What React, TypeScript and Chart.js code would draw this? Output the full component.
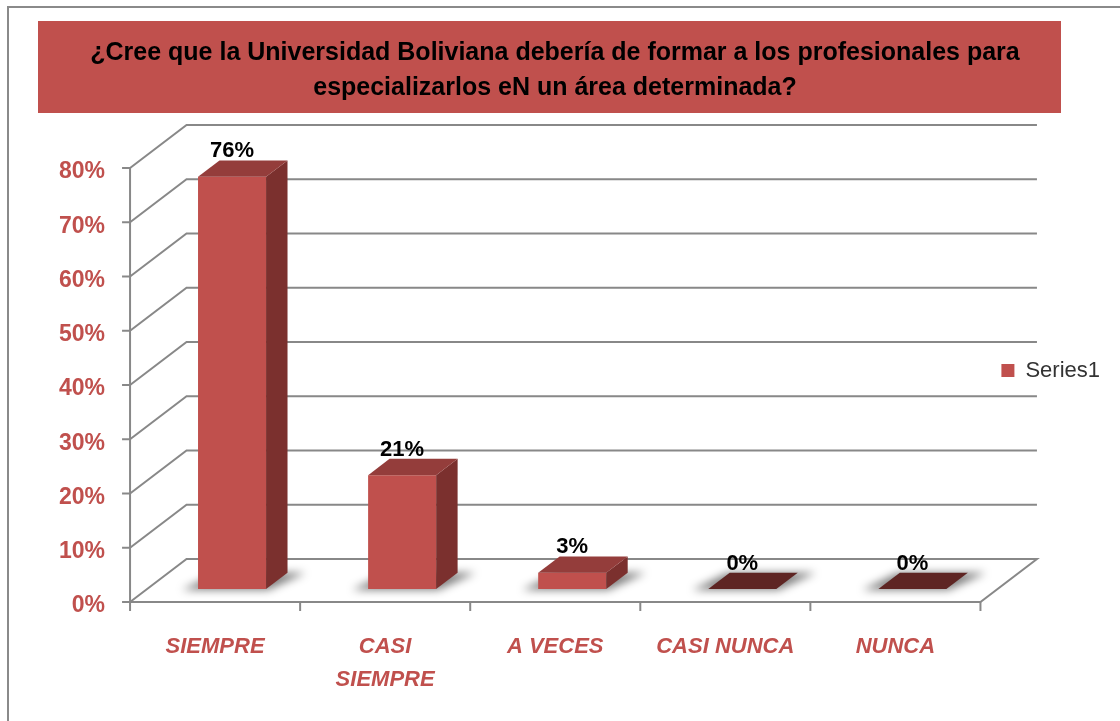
import React, { useEffect, useRef } from "react";
import { Chart, registerables } from "chart.js";

Chart.register(...registerables);

// ---------- data ----------
const TITLE_LINES = [
  "¿Cree que la Universidad Boliviana debería de formar a los profesionales para",
  "especializarlos eN un área determinada?",
];
const CATEGORIES: (string | string[])[] = ["SIEMPRE", ["CASI", "SIEMPRE"], "A VECES", "CASI NUNCA", "NUNCA"];
const SERIES_NAME = "Series1";
const SERIES_VALUES = [76, 21, 3, 0, 0];
const Y_MIN = 0;
const Y_MAX = 80;
const Y_STEP = 10;

// ---------- styles ----------
const FONT = "'Liberation Sans', Arial, sans-serif";
const RED = "#C0504D";
const SIDE = "#7B302E";
const TOP = "#943D3B";
const TOP_ZERO = "#5E2523";
const GRID = "#888888";
const DEPTH = { dx: 56.5, dy: -43 };
const BAR_FRONT = 0.3;
const BAR_DEPTH = 0.38;

const threeD = {
  id: "threeD",
  beforeDraw(chart: any) {
    const ctx = chart.ctx;
    ctx.save();
    ctx.fillStyle = "#ffffff";
    ctx.fillRect(0, 0, chart.width, chart.height);
    ctx.strokeStyle = "#8A8A8A";
    ctx.lineWidth = 2;
    ctx.beginPath();
    ctx.moveTo(8, chart.height);
    ctx.lineTo(8, 7);
    ctx.lineTo(chart.width, 7);
    ctx.stroke();
    ctx.fillStyle = RED;
    ctx.fillRect(38, 21, 1023, 92);
    ctx.restore();
  },
  beforeDatasetsDraw(chart: any) {
    const ctx = chart.ctx;
    const x = chart.scales.x;
    const y = chart.scales.y;
    const ox = -BAR_FRONT * DEPTH.dx;
    const oy = -BAR_FRONT * DEPTH.dy;
    const fl = x.left + ox;
    const fr = x.right + ox;
    const yF = (v: number) => y.getPixelForValue(v) + oy;
    ctx.save();
    ctx.strokeStyle = GRID;
    ctx.lineWidth = 2;
    for (let v = Y_MIN; v <= Y_MAX; v += Y_STEP) {
      const yy = yF(v);
      ctx.beginPath();
      ctx.moveTo(fl, yy);
      ctx.lineTo(fl + DEPTH.dx, yy + DEPTH.dy);
      ctx.lineTo(fr + DEPTH.dx, yy + DEPTH.dy);
      if (v === Y_MIN) {
        ctx.lineTo(fr, yy);
        ctx.lineTo(fl, yy);
      }
      ctx.stroke();
      ctx.beginPath();
      ctx.moveTo(fl - 8, yy);
      ctx.lineTo(fl, yy);
      ctx.stroke();
    }
    ctx.beginPath();
    ctx.moveTo(fl, yF(Y_MAX));
    ctx.lineTo(fl, yF(Y_MIN) + 1);
    ctx.stroke();
    const n = chart.data.labels.length;
    const w = (x.right - x.left) / n;
    for (let i = 0; i <= n; i++) {
      const xx = fl + i * w;
      ctx.beginPath();
      ctx.moveTo(xx, yF(Y_MIN));
      ctx.lineTo(xx, yF(Y_MIN) + 9);
      ctx.stroke();
    }
    // floor shadows
    const meta = chart.getDatasetMeta(0);
    const bdx = BAR_DEPTH * DEPTH.dx;
    const bdy = BAR_DEPTH * DEPTH.dy;
    ctx.filter = "blur(4px)";
    ctx.fillStyle = "rgba(0,0,0,0.5)";
    meta.data.forEach((bar: any) => {
      const p = bar.getProps(["x", "base", "width"], true);
      const xl = p.x - p.width / 2;
      const xr = p.x + p.width / 2;
      ctx.beginPath();
      ctx.moveTo(xl - 16, p.base + 1);
      ctx.lineTo(xr + 2, p.base + 1);
      ctx.lineTo(xr + bdx + 18, p.base + bdy);
      ctx.lineTo(xl + bdx - 2, p.base + bdy);
      ctx.closePath();
      ctx.fill();
    });
    ctx.restore();
  },
  afterDatasetsDraw(chart: any) {
    const ctx = chart.ctx;
    const meta = chart.getDatasetMeta(0);
    const values = chart.data.datasets[0].data;
    const bdx = BAR_DEPTH * DEPTH.dx;
    const bdy = BAR_DEPTH * DEPTH.dy;
    ctx.save();
    meta.data.forEach((bar: any, i: number) => {
      const p = bar.getProps(["x", "y", "base", "width"], true);
      const xl = p.x - p.width / 2;
      const xr = p.x + p.width / 2;
      const top = Math.min(p.y, p.base);
      if (p.base - top > 0.5) {
        ctx.fillStyle = SIDE;
        ctx.beginPath();
        ctx.moveTo(xr, top);
        ctx.lineTo(xr + bdx, top + bdy);
        ctx.lineTo(xr + bdx, p.base + bdy);
        ctx.lineTo(xr, p.base);
        ctx.closePath();
        ctx.fill();
      }
      ctx.fillStyle = values[i] === 0 ? TOP_ZERO : TOP;
      ctx.beginPath();
      ctx.moveTo(xl, top);
      ctx.lineTo(xr, top);
      ctx.lineTo(xr + bdx, top + bdy);
      ctx.lineTo(xl + bdx, top + bdy);
      ctx.closePath();
      ctx.fill();
      ctx.fillStyle = "#000000";
      ctx.font = `bold 22px ${FONT}`;
      ctx.textAlign = "center";
      ctx.textBaseline = "alphabetic";
      ctx.fillText(`${values[i]}%`, p.x, top + bdy - 3);
    });
    ctx.restore();
  },
};

export default function App() {
  const ref = useRef<HTMLCanvasElement | null>(null);
  useEffect(() => {
    if (!ref.current) return;
    const chart = new Chart(ref.current, {
      type: "bar",
      data: {
        labels: CATEGORIES as any,
        datasets: [
          {
            label: SERIES_NAME,
            data: SERIES_VALUES,
            backgroundColor: RED,
            borderWidth: 0,
            barPercentage: 0.4,
            categoryPercentage: 1,
          },
        ],
      },
      options: {
        responsive: false,
        maintainAspectRatio: false,
        animation: false,
        layout: { padding: { left: 0, right: 10, top: 0, bottom: 0 } },
        plugins: {
          tooltip: { enabled: false },
          title: {
            display: true,
            text: TITLE_LINES,
            color: "#000000",
            font: { family: FONT, size: 25, weight: "bold", lineHeight: 1.4 },
            padding: { top: 35.5, bottom: 49.6 },
          },
          legend: {
            display: true,
            position: "right",
            title: {
              display: true,
              text: " ",
              font: { family: FONT, size: 10, lineHeight: 1 },
              padding: { top: 5, bottom: 5 },
            },
            labels: {
              font: { family: FONT, size: 22 },
              color: "#333333",
              boxWidth: 13,
              boxHeight: 13,
              padding: 4,
            },
          },
        },
        scales: {
          x: {
            grid: { display: false, drawTicks: false },
            border: { display: false },
            afterFit: (s: any) => {
              s.height = 131.9;
            },
            ticks: {
              autoSkip: false,
              maxRotation: 0,
              minRotation: 0,
              padding: 41.4,
              labelOffset: -17,
              color: RED,
              font: { family: FONT, size: 22, weight: "bold", style: "italic", lineHeight: 1.5 },
            },
          },
          y: {
            min: Y_MIN,
            max: Y_MAX,
            grid: { display: false, drawTicks: false },
            border: { display: false },
            afterFit: (s: any) => {
              s.width = 147;
            },
            ticks: {
              stepSize: Y_STEP,
              padding: 42,
              labelOffset: 17,
              color: RED,
              font: { family: FONT, size: 23, weight: "bold" },
              callback: (v: any) => `${v}%`,
            },
          },
        },
      },
      plugins: [threeD],
    });
    return () => chart.destroy();
  }, []);
  return (
    <div style={{ position: "fixed", left: 0, top: 0, width: 1120, height: 721 }}>
      <canvas ref={ref} width={1120} height={721} style={{ width: 1120, height: 721 }} />
    </div>
  );
}
